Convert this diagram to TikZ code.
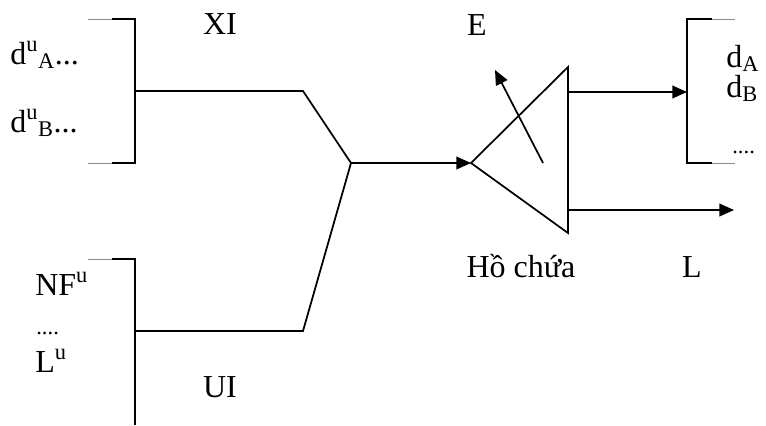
\documentclass[tikz,border=0pt]{standalone}
\usepackage{fontspec}
\setmainfont{Liberation Serif}
\usetikzlibrary{arrows.meta,positioning}

\begin{document}
\begin{tikzpicture}[
    x=0.75pt, y=-0.75pt,
    every node/.style={font=\fontsize{24}{27}\selectfont, inner sep=0pt},
    dots/.style={font=\fontsize{17}{20}\selectfont},
    line/.style={line width=1.3pt},
    faint/.style={line width=0.6pt, black!45},
    arrow/.style={-{Triangle[length=11pt,width=9.5pt]}, line width=1.3pt}
]
\useasboundingbox (0,0) rectangle (766,425);

% inflow brackets
\coordinate (xtop) at (135,19);
\coordinate (xbot) at (135,163);
\coordinate (xmid) at (135,91);
\coordinate (xbend) at (303,91);
\coordinate (utop) at (135,259);
\coordinate (uend) at (135,425);
\coordinate (umid) at (135,331);
\coordinate (ubend) at (303,331);
\coordinate (join) at (351,163);

% reservoir
\coordinate (tip) at (471,163);
\coordinate (rtop) at (568,67);
\coordinate (rbot) at (568,233);
\coordinate (etail) at (543,163);
\coordinate (ehead) at (495,70);
\coordinate (dout) at (568,92);
\coordinate (lout) at (568,210);
\coordinate (lend) at (734,210);

% demand bracket
\coordinate (dtop) at (687,19);
\coordinate (dmid) at (687,92);
\coordinate (dbot) at (687,163);

\node[anchor=base west] (duA) at (10,64) {d\textsuperscript{u}\textsubscript{A}...};
\node[anchor=base west] (duB) at (10,132) {d\textsuperscript{u}\textsubscript{B}...};
\node[anchor=base] (xi) at (220,34) {XI};
\node[anchor=base west] (nfu) at (35,295) {NF\textsuperscript{u}};
\node[anchor=base west, dots] (udots) at (36,334) {....};
\node[anchor=base west] (lu) at (35,372) {L\textsuperscript{u}};
\node[anchor=base] (ui) at (220,397) {UI};
\node[anchor=base] (e) at (477,35) {E};
\node[anchor=base] (ho) at (521,277) {Hồ chứa};
\node[anchor=base] (l) at (692,277) {L};
\node[anchor=base west] (dA) at (726,67) {d\textsubscript{A}};
\node[anchor=base west] (dB) at (726,97) {d\textsubscript{B}};
\node[anchor=base west, dots] (ddots) at (732,153) {....};

\draw[faint] (88,19) -- (112,19);
\draw[faint] (88,163) -- (112,163);
\draw[faint] (88,259) -- (112,259);
\draw[line] (112,19) -- (xtop) -- (xbot) -- (112,163);
\draw[line] (112,259) -- (utop) -- (uend);
\draw[line] (xmid) -- (xbend) -- (join);
\draw[line] (umid) -- (ubend) -- (join);
\draw[arrow] (join) -- (tip);

\draw[line] (tip) -- (rtop) -- (rbot) -- cycle;
\draw[arrow] (etail) -- (ehead);
\draw[arrow] (dout) -- (dmid);
\draw[arrow] (lout) -- (lend);

\draw[line] (712,19) -- (dtop) -- (dbot) -- (712,163);
\draw[faint] (712,19) -- (735,19);
\draw[faint] (712,163) -- (735,163);

\end{tikzpicture}
\end{document}
